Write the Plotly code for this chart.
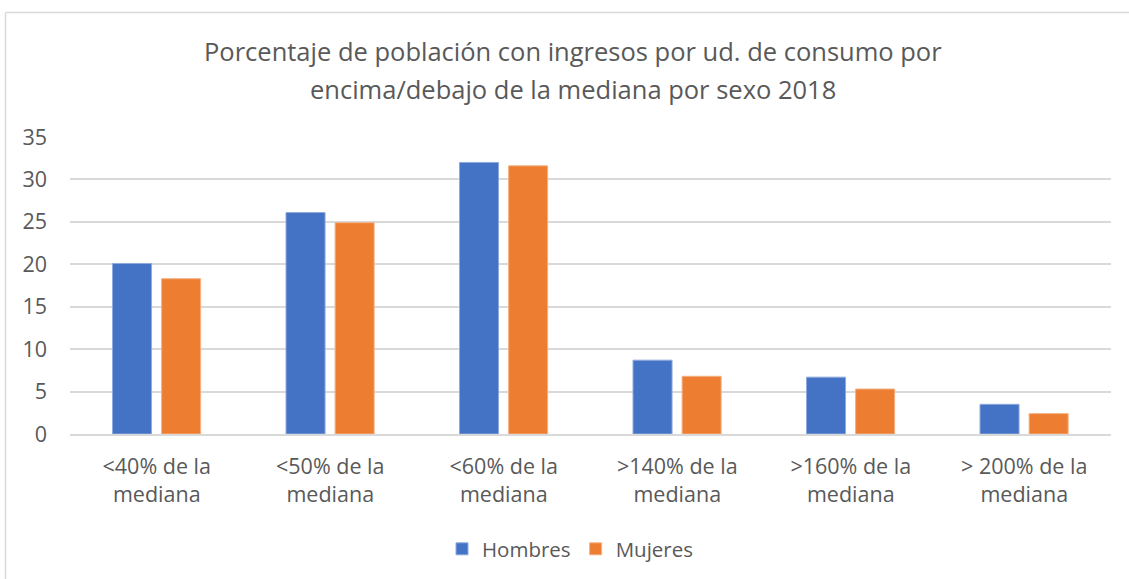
import plotly.graph_objects as go

# Income-per-consumption-unit thresholds relative to the median
categories = ["<40% de la mediana", "<50% de la mediana", "<60% de la mediana",
              ">140% de la mediana", ">160% de la mediana", "> 200% de la mediana"]
tick_labels = ["&lt;40% de la<br>mediana", "&lt;50% de la<br>mediana", "&lt;60% de la<br>mediana",
               ">140% de la<br>mediana", ">160% de la<br>mediana", "> 200% de la<br>mediana"]
hombres = [20.1, 26.1, 32.0, 8.7, 6.7, 3.5]
mujeres = [18.3, 24.9, 31.6, 6.8, 5.3, 2.4]
y_ticks = [0, 5, 10, 15, 20, 25, 30, 35]

title_lines = ["Porcentaje de población con ingresos por ud. de consumo por",
               "encima/debajo de la mediana por sexo 2018"]

FONT = "Open Sans"
TXT = "#595959"
GRID = "#D9D9D9"

fig = go.Figure()
fig.add_trace(go.Bar(
    name="Hombres", x=categories, y=hombres,
    width=0.225, offset=-0.255,
    marker=dict(color="#4472C4", line=dict(color="#8FAADC", width=1)),
))
fig.add_trace(go.Bar(
    name="Mujeres", x=categories, y=mujeres,
    width=0.225, offset=0.028,
    marker=dict(color="#ED7D31", line=dict(color="#F4B183", width=1)),
))

# Plot-area geometry in px, used to place items around it
W_PLOT, H_PLOT, L, B = 1041, 298, 70, 144

def px_x(px):
    return (px - L) / W_PLOT

def px_y(py):
    return (579 - B - py) / H_PLOT

annotations = [
    dict(text=title_lines[0], x=px_x(573), y=px_y(51), xref="paper", yref="paper",
         xanchor="center", yanchor="middle", showarrow=False,
         font=dict(family=FONT, size=25.5, color=TXT)),
    dict(text=title_lines[1], x=px_x(573), y=px_y(89), xref="paper", yref="paper",
         xanchor="center", yanchor="middle", showarrow=False,
         font=dict(family=FONT, size=25.5, color=TXT)),
]

# Chart-area frame (top and left edges)
shapes = [
    dict(type="line", xref="paper", yref="paper", x0=px_x(5.5), x1=px_x(1135),
         y0=px_y(12), y1=px_y(12), line=dict(color=GRID, width=1.5)),
    dict(type="line", xref="paper", yref="paper", x0=px_x(5.5), x1=px_x(5.5),
         y0=px_y(12), y1=px_y(590), line=dict(color=GRID, width=1.5)),
]

fig.update_layout(
    width=1129, height=579,
    margin=dict(l=L, r=18, t=137, b=B),
    paper_bgcolor="white", plot_bgcolor="white",
    barmode="group",
    font=dict(family=FONT, size=21, color=TXT),
    showlegend=True,
    legend=dict(orientation="h", x=px_x(570), y=px_y(549), xanchor="center", yanchor="middle",
                font=dict(family=FONT, size=20.5, color=TXT), itemwidth=30,
                traceorder="normal"),
    annotations=annotations,
    shapes=shapes,
)
fig.update_xaxes(
    tickmode="array", tickvals=categories, ticktext=tick_labels,
    showline=True, linecolor=GRID, linewidth=1.5, showgrid=False,
    ticks="", ticklabelstandoff=12,
    tickfont=dict(family=FONT, size=21.5, color=TXT),
)
fig.update_yaxes(
    range=[0, 35], tickmode="array", tickvals=y_ticks,
    showgrid=True, gridcolor=GRID, gridwidth=1.5, zeroline=False,
    showline=False, ticks="", ticklabelstandoff=22,
    tickfont=dict(family=FONT, size=21.5, color=TXT),
)

fig.write_html("out.html")
